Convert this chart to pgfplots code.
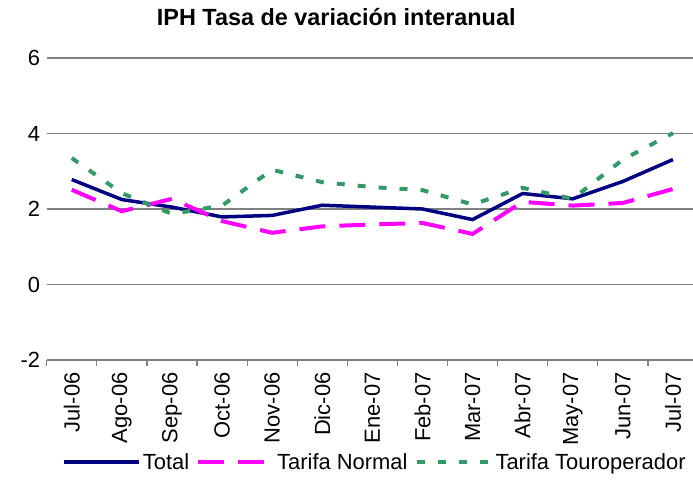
\documentclass[border=0pt]{standalone}
\usepackage{pgfplots}
\pgfplotsset{compat=1.18}
\usepackage{fontspec}
\setmainfont{Liberation Sans}
\definecolor{navyc}{RGB}{0,0,128}
\definecolor{magc}{RGB}{255,0,255}
\definecolor{greenc}{RGB}{51,153,102}
\definecolor{gridc}{RGB}{128,128,128}
\begin{document}
\begin{tikzpicture}
\useasboundingbox (-46.7bp,-138bp) rectangle (646.3bp,360bp);
\begin{axis}[
  at={(0,0)}, anchor=south west,
  scale only axis,
  width=646.3bp, height=302bp,
  xmin=-0.5, xmax=12.4,
  ymin=-2, ymax=6,
  ytick={-2,0,2,4,6},
  yticklabels={-2,0,2,4,6},
  xtick={0,...,12},
  xticklabels={Jul-06,Ago-06,Sep-06,Oct-06,Nov-06,Dic-06,Ene-07,Feb-07,Mar-07,Abr-07,May-07,Jun-07,Jul-07},
  xticklabel style={rotate=90, anchor=east, font=\fontsize{22}{26}\selectfont},
  xticklabel shift=9bp,
  yticklabel style={font=\fontsize{22}{26}\selectfont, xshift=-3bp},
  major tick length=0bp,
  minor xtick={-0.5,0.5,...,11.5},
  minor tick length=6bp,
  tick align=outside,
  tick pos=left,
  every minor tick/.style={draw=gridc, line width=1.2bp},
  axis line style={draw=none},
  ymajorgrids,
  grid style={draw=gridc, line width=1.5bp},
  clip=false,
  title={IPH Tasa de variación interanual},
  title style={at={(0.448,1.117)}, anchor=center, font=\bfseries\fontsize{23.5}{28}\selectfont},
  legend columns=3,
  legend image code/.code={\draw[#1] (0bp,0bp) -- (75bp,0bp);},
  legend style={draw=none, fill=none, at={(0.508,-0.338)}, anchor=center,
     font=\fontsize{22}{26}\selectfont, inner sep=0pt,
     nodes={inner sep=2bp},
     /tikz/every even column/.append style={column sep=5bp}},
]
\addplot[navyc, line width=3.5bp] coordinates {
(0,2.78) (1,2.25) (2,2.05) (3,1.79) (4,1.83) (5,2.10) (6,2.05) (7,2.00) (8,1.72) (9,2.41) (10,2.27) (11,2.73) (12,3.31)};
\addlegendentry{Total}
\addplot[magc, line width=4bp, dash pattern=on 26bp off 14bp] coordinates {
(0,2.51) (1,1.94) (2,2.27) (3,1.68) (4,1.37) (5,1.54) (6,1.59) (7,1.63) (8,1.34) (9,2.19) (10,2.09) (11,2.16) (12,2.53)};
\addlegendentry{Tarifa Normal}
\addplot[greenc, line width=4bp, dash pattern=on 8bp off 13bp] coordinates {
(0,3.35) (1,2.42) (2,1.87) (3,2.09) (4,3.04) (5,2.71) (6,2.58) (7,2.50) (8,2.12) (9,2.56) (10,2.27) (11,3.31) (12,4.01)};
\addlegendentry{Tarifa Touroperador}
\end{axis}
\end{tikzpicture}
\end{document}
